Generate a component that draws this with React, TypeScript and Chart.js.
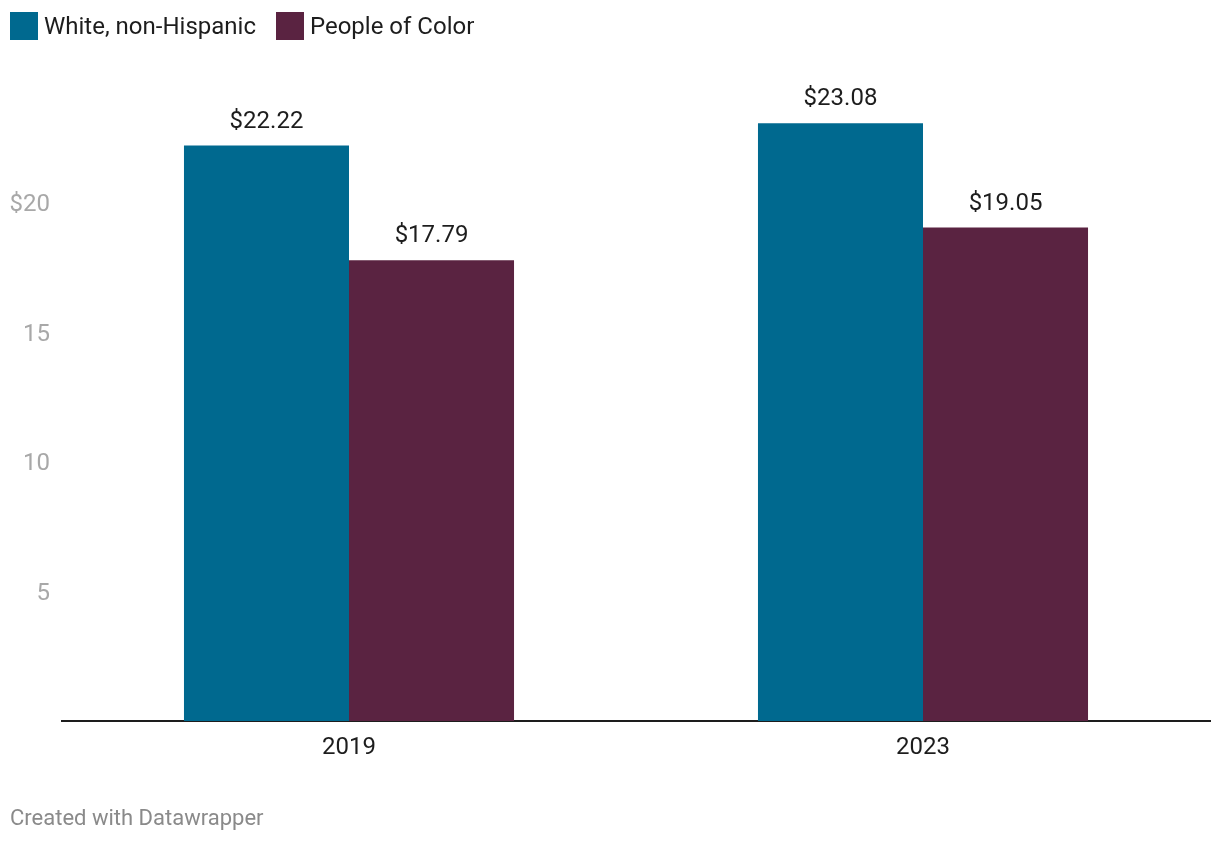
import React, { useEffect, useRef } from "react";
import { Chart, registerables } from "chart.js";

Chart.register(...registerables);

const categories = ["2019", "2023"];
const whiteValues = [22.22, 23.08];
const pocValues = [17.79, 19.05];
const seriesNames = ["White, non-Hispanic", "People of Color"];
const seriesColors = ["#00698f", "#5a2341"];
const yTicks = [5, 10, 15, 20];

const FONT = "Roboto, 'Noto Sans', sans-serif";

const valueLabels = {
  id: "valueLabels",
  afterDatasetsDraw(chart: any) {
    const ctx = chart.ctx;
    ctx.save();
    ctx.font = `24px ${FONT}`;
    ctx.fillStyle = "#1d1d1d";
    ctx.textAlign = "center";
    ctx.textBaseline = "alphabetic";
    chart.data.datasets.forEach((ds: any, i: number) => {
      const meta = chart.getDatasetMeta(i);
      meta.data.forEach((bar: any, j: number) => {
        ctx.fillText("$" + Number(ds.data[j]).toFixed(2), bar.x, bar.y - 18);
      });
    });
    ctx.restore();
  },
};

export default function App() {
  const ref = useRef<HTMLCanvasElement>(null);
  useEffect(() => {
    const chart = new Chart(ref.current!, {
      type: "bar",
      data: {
        labels: categories,
        datasets: [
          { label: seriesNames[0], data: whiteValues, backgroundColor: seriesColors[0] },
          { label: seriesNames[1], data: pocValues, backgroundColor: seriesColors[1] },
        ],
      },
      options: {
        animation: false,
        responsive: false,
        maintainAspectRatio: false,
        layout: { padding: { top: 73.5, left: 0, right: 10, bottom: 83 } },
        plugins: { legend: { display: false }, tooltip: { enabled: false } },
        datasets: { bar: { categoryPercentage: 0.575, barPercentage: 1 } },
        scales: {
          x: {
            grid: { display: false, drawTicks: false },
            border: { display: true, color: "#1d1d1d", width: 2 },
            ticks: { color: "#1d1d1d", font: { family: FONT, size: 24 }, padding: 13 },
            afterFit: (s: any) => { s.height = 40; },
          },
          y: {
            min: 0,
            max: 25,
            grid: { display: false, drawTicks: false },
            border: { display: false },
            afterBuildTicks: (s: any) => { s.ticks = yTicks.map((v) => ({ value: v })); },
            ticks: {
              color: "#a8a8a8",
              font: { family: FONT, size: 24 },
              padding: 12,
              labelOffset: 2,
              callback: (v: any) => (v === 20 ? "$" + v : String(v)),
            },
            afterFit: (s: any) => { s.width = 62; },
          },
        },
      },
      plugins: [valueLabels],
    });
    return () => chart.destroy();
  }, []);

  const legendItem = (i: number) => (
    <div style={{ display: "flex", alignItems: "center", marginRight: 20 }}>
      <div style={{ width: 28, height: 28, background: seriesColors[i], marginRight: 6 }} />
      <span>{seriesNames[i]}</span>
    </div>
  );

  return (
    <div style={{ position: "fixed", left: 0, top: 0, width: 1220, height: 844, background: "#fff", fontFamily: FONT }}>
      <canvas ref={ref} width={1220} height={844} style={{ position: "absolute", left: 0, top: 0 }} />
      <div style={{ position: "absolute", left: 10, top: 12, display: "flex", fontSize: 24, color: "#1d1d1d", lineHeight: "28px" }}>
        {legendItem(0)}
        {legendItem(1)}
      </div>
      <div style={{ position: "absolute", left: 10, top: 805, fontSize: 22, color: "#8a8a8a", lineHeight: "26px" }}>
        Created with Datawrapper
      </div>
    </div>
  );
}
